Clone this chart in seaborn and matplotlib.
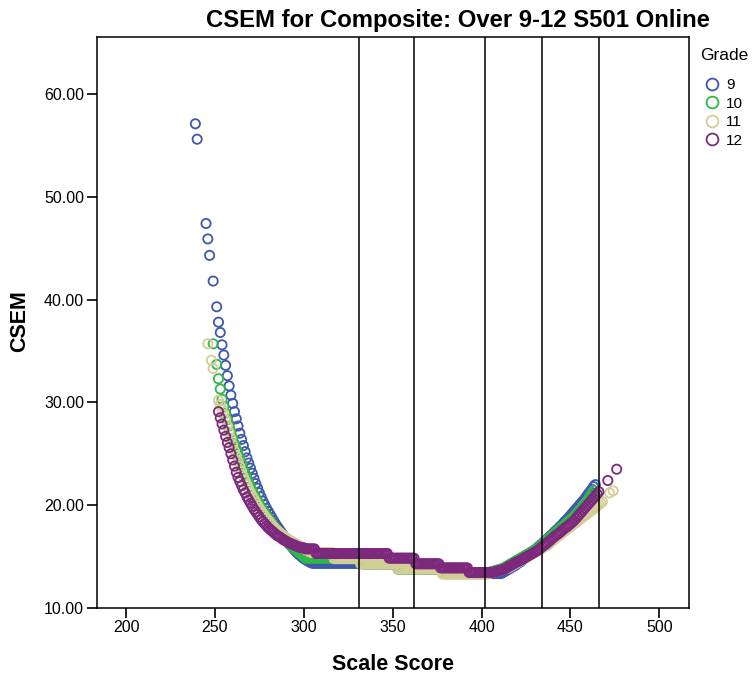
import numpy as np
import pandas as pd
import matplotlib
matplotlib.use("Agg")
import matplotlib.pyplot as plt
import seaborn as sns
from matplotlib.lines import Line2D
from matplotlib.ticker import FormatStrFormatter, FixedLocator

# ---------------- data ----------------
grades = [9, 10, 11, 12]
grade_colors = ["#3E58AC", "#2EB848", "#D3CE97", "#7C287D"]
cut_scores = [331, 362, 402, 434, 466]
x_ticks = [200, 250, 300, 350, 400, 450, 500]
y_ticks = [10, 20, 30, 40, 50, 60]

# Grade 9
g9_iso_score = [239, 240, 245, 246, 247, 249]
g9_iso_csem = [57.1, 55.6, 47.4, 45.9, 44.3, 41.8]
g9_start = 251
g9_csem = ([39.3, 37.8, 36.8, 35.6, 34.6, 33.6, 32.6, 31.6, 30.7,
            29.9, 29.1, 28.4, 27.7, 27.0, 26.4, 25.8, 25.2, 24.6, 24.1,
            23.6, 23.1, 22.6, 22.1, 21.65, 21.2, 20.8, 20.4, 20.05, 19.7,
            19.4, 19.1, 18.8, 18.5, 18.2, 17.95, 17.7, 17.45, 17.2, 16.95,
            16.7, 16.45, 16.2, 16.0, 15.8, 15.6, 15.4, 15.25, 15.1, 14.95,
            14.8, 14.7, 14.6, 14.5, 14.4]
           + [14.35] * 29 + [14.3] * 19 + [13.8] * 27 + [13.35] * 32
           + [13.45, 13.55, 13.65, 13.75, 13.85, 13.95, 14.05, 14.15, 14.3, 14.4,
              14.5, 14.65, 14.8, 14.95, 15.1, 15.2, 15.35, 15.5, 15.65, 15.8,
              15.95, 16.1, 16.25, 16.4, 16.55, 16.7, 16.9, 17.05, 17.2, 17.4,
              17.55, 17.7, 17.9, 18.05, 18.25, 18.45, 18.6, 18.8, 19.0, 19.2,
              19.4, 19.6, 19.8, 20.0, 20.2, 20.4, 20.6, 20.85, 21.1, 21.3,
              21.55, 21.8, 22.0])

# Grade 10
g10_iso_score = [249]
g10_iso_csem = [35.7]
g10_start = 251
g10_csem = ([33.7, 32.3, 31.3, 30.3, 29.6, 28.95, 28.3, 27.7, 27.1,
             26.5, 26.0, 25.5, 25.0, 24.5, 24.0, 23.5, 23.05, 22.6, 22.2,
             21.8, 21.4, 21.05, 20.7, 20.4, 20.1, 19.8, 19.5, 19.25, 19.0,
             18.75, 18.5, 18.25, 18.0, 17.8, 17.6, 17.4, 17.2, 17.0, 16.8,
             16.6, 16.4, 16.2, 16.05, 15.9, 15.75, 15.6, 15.45, 15.3, 15.15,
             15.0]
            + [14.85] * 31 + [14.3] * 21 + [13.8] * 27 + [13.35] * 25
            + [13.5, 13.55, 13.6, 13.65, 13.7, 13.75, 13.8, 13.85, 13.95, 14.05,
               14.15, 14.25, 14.35, 14.45, 14.55, 14.65, 14.75, 14.85, 14.95, 15.05,
               15.15, 15.25, 15.35, 15.45, 15.55, 15.65, 15.75, 15.9, 16.05, 16.2,
               16.35, 16.5, 16.65, 16.8, 16.95, 17.1, 17.25, 17.4, 17.55, 17.7,
               17.85, 18.0, 18.15, 18.3, 18.45, 18.6, 18.75, 18.9, 19.1, 19.3,
               19.5, 19.7, 19.9, 20.1, 20.35, 20.6, 20.85, 21.1, 21.4])

# Grade 11
g11_iso_score = [246, 248, 249, 472, 474]
g11_iso_csem = [35.7, 34.1, 33.3, 21.2, 21.4]
g11_start = 252
g11_csem = ([30.2, 29.8, 29.3, 28.8, 28.3, 27.7, 27.1, 26.5,
             25.9, 25.3, 24.8, 24.3, 23.8, 23.3, 22.8, 22.4, 22.0, 21.6,
             21.25, 20.9, 20.6, 20.3, 20.0, 19.7, 19.45, 19.2, 18.95, 18.7,
             18.5, 18.3, 18.1, 17.9, 17.7, 17.55, 17.4, 17.25, 17.1, 16.95,
             16.8, 16.7, 16.6, 16.5, 16.4, 16.3, 16.2, 16.1, 16.0, 15.9,
             15.8, 15.7, 15.6, 15.5]
            + [15.4] * 13 + [14.8] * 15 + [14.3] * 21 + [13.8] * 25 + [13.3] * 25
            + [13.3, 13.35, 13.4, 13.45, 13.5, 13.55, 13.6, 13.65, 13.7, 13.75,
               13.8, 13.85, 13.9, 14.0, 14.1, 14.2, 14.3, 14.4, 14.5, 14.6,
               14.7, 14.8, 14.9, 15.0, 15.1, 15.2, 15.3, 15.4, 15.5, 15.6,
               15.7, 15.8, 15.9, 16.0, 16.1, 16.25, 16.4, 16.55, 16.7, 16.85,
               17.0, 17.1, 17.25, 17.4, 17.5, 17.65, 17.8, 17.9, 18.05, 18.2,
               18.3, 18.45, 18.6, 18.7, 18.85, 19.0, 19.1, 19.25, 19.4, 19.5,
               19.65, 19.8, 19.9, 20.05, 20.2, 20.35])

# Grade 12
g12_iso_score = [471, 476]
g12_iso_csem = [22.4, 23.5]
g12_start = 252
g12_csem = ([29.1, 28.5, 27.9, 27.3, 26.7, 26.1, 25.6, 25.0,
             24.4, 23.8, 23.2, 22.7, 22.3, 21.9, 21.5, 21.2, 20.8, 20.5,
             20.2, 19.9, 19.6, 19.35, 19.1, 18.85, 18.6, 18.4, 18.2, 18.0,
             17.8, 17.65, 17.5, 17.35, 17.2, 17.05, 16.95, 16.85, 16.7, 16.6,
             16.5, 16.4, 16.3, 16.25, 16.15, 16.1, 16.0, 15.95, 15.9, 15.85,
             15.85]
            + [15.75] * 6 + [15.3] * 41 + [14.85] * 15 + [14.3] * 14 + [13.9] * 16 + [13.45] * 14
            + [13.5, 13.55, 13.6, 13.65, 13.7, 13.75, 13.8, 13.9, 14.0, 14.1,
               14.2, 14.3, 14.4, 14.5, 14.55, 14.65, 14.75, 14.85, 14.95, 15.05,
               15.15, 15.25, 15.35, 15.45, 15.55, 15.65, 15.8, 15.95, 16.1, 16.2,
               16.35, 16.5, 16.65, 16.8, 16.95, 17.1, 17.2, 17.35, 17.5, 17.65,
               17.8, 17.9, 18.05, 18.2, 18.35, 18.5, 18.7, 18.9, 19.1, 19.3,
               19.5, 19.7, 19.9, 20.1, 20.3, 20.5, 20.7, 20.9, 21.1, 21.3])

series = {
    9: (g9_start, g9_csem, g9_iso_score, g9_iso_csem),
    10: (g10_start, g10_csem, g10_iso_score, g10_iso_csem),
    11: (g11_start, g11_csem, g11_iso_score, g11_iso_csem),
    12: (g12_start, g12_csem, g12_iso_score, g12_iso_csem),
}

frames = []
for g in grades:
    start, cs, iso_s, iso_c = series[g]
    sc = list(range(start, start + len(cs)))
    frames.append(pd.DataFrame({"Scale Score": list(iso_s) + sc,
                                "CSEM": list(iso_c) + list(cs),
                                "Grade": g}))
df = pd.concat(frames, ignore_index=True)

# ---------------- figure ----------------
sns.set_style("white")
plt.rcParams["font.family"] = ["Liberation Sans", "DejaVu Sans"]
plt.rcParams["text.color"] = "black"
plt.rcParams["axes.labelcolor"] = "black"
plt.rcParams["xtick.color"] = "black"
plt.rcParams["ytick.color"] = "black"

W, H = 755, 681
fig = plt.figure(figsize=(W / 100, H / 100), dpi=100)
L, R, T, B = 96.7, 688.7, 36.7, 608.0
ax = fig.add_axes([L / W, 1 - B / H, (R - L) / W, (B - T) / H])

palette = dict(zip(grades, grade_colors))
sns.scatterplot(data=df, x="Scale Score", y="CSEM", hue="Grade",
                hue_order=grades, palette=palette, s=44, marker="o",
                legend=False, ax=ax)
coll = ax.collections[0]
fc = coll.get_facecolors()
coll.set_edgecolors(fc)
coll.set_facecolors("none")
coll.set_linewidths(1.3)

for c in cut_scores:
    ax.axvline(c, color="black", lw=1.1, zorder=4)

ax.set_xlim(183.5, 516.5)
ax.set_ylim(10, 65.57)
ax.xaxis.set_major_locator(FixedLocator(x_ticks))
ax.yaxis.set_major_locator(FixedLocator(y_ticks))
ax.yaxis.set_major_formatter(FormatStrFormatter("%.2f"))
ax.tick_params(axis="both", direction="out", length=7, width=1.2,
               color="black", labelcolor="black", labelsize=11.5, pad=2,
               bottom=True, left=True, top=False, right=False)
for sp in ax.spines.values():
    sp.set_visible(True)
    sp.set_linewidth(1.1)
    sp.set_color("black")
ax.set_xlabel("")
ax.set_ylabel("")

fig.text(457.5 / W, 1 - 20 / H, "CSEM for Composite: Over 9-12 S501 Online",
         ha="center", va="center", fontsize=17.2, fontweight="bold")
fig.text(393 / W, 1 - 664.5 / H, "Scale Score", ha="center", va="center",
         fontsize=15.5, fontweight="bold")
fig.text(20 / W, 1 - 321 / H, "CSEM", rotation=90, ha="center", va="center",
         fontsize=15.5, fontweight="bold")

fig.text(700 / W, 1 - 56 / H, "Grade", ha="left", va="center", fontsize=12.5)
handles = [Line2D([], [], ls="", marker="o", markerfacecolor="none",
                  markeredgecolor=col, markersize=8.5, markeredgewidth=1.3)
           for col in grade_colors]
fig.legend(handles, [str(g) for g in grades],
           loc="upper left", bbox_to_anchor=(703 / W, 1 - 78 / H),
           frameon=False, fontsize=11,
           handletextpad=0.3, handlelength=1.2, labelspacing=0.3,
           borderaxespad=0, borderpad=0)

fig.savefig("out.png", dpi=100)
